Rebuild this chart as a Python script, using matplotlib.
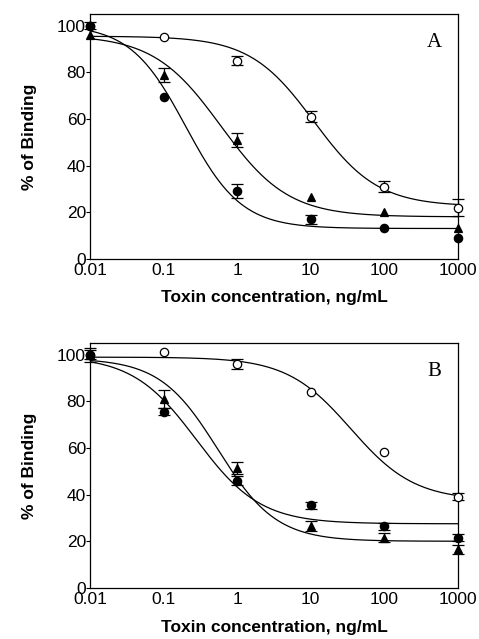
import numpy as np
import matplotlib.pyplot as plt
from matplotlib.ticker import FixedLocator, FixedFormatter, NullLocator

plt.rcParams['font.family'] = ['Liberation Sans', 'DejaVu Sans']

conc = [0.01, 0.1, 1, 10, 100, 1000]
conc_labels = ['0.01', '0.1', '1', '10', '100', '1000']

# panel A: measured % binding and error bars
a_open = [100, 95, 85, 61, 31, 22]
a_open_err = [0, 0, 2, 2.5, 2.5, 3.5]
a_tri = [96, 79, 51, 26.5, 20, 13]
a_tri_err = [0, 3, 3, 0, 0, 0]
a_fill = [100, 69.5, 29, 17, 13, 9]
a_fill_err = [1.5, 0, 3, 2, 0, 0]

# panel B
b_open = [100, 101, 96, 84, 58.5, 39]
b_open_err = [0, 0, 2, 0, 0, 1.5]
b_tri = [100, 81, 51.5, 26.5, 21.5, 16.5]
b_tri_err = [3, 4, 2.5, 2, 2, 2]
b_fill = [100, 75.5, 46, 35.5, 26.5, 21.5]
b_fill_err = [2, 1.5, 2, 1.5, 1.5, 1.5]

# fitted 4-parameter logistic curves: top, bottom, IC50, hill slope
a_open_fit = [95.5, 22.5, 11, 1.0]
a_tri_fit = [96, 18, 0.6, 0.95]
a_fill_fit = [100.5, 13, 0.2, 1.15]
b_open_fit = [99, 37.5, 35, 1.0]
b_tri_fit = [98.5, 20, 0.55, 1.1]
b_fill_fit = [99.5, 27.5, 0.28, 1.0]


def logistic(x, p):
    top, bottom, ic50, hill = p
    return bottom + (top - bottom) / (1 + (x / ic50) ** hill)


def panel(ax, data, letter):
    xx = np.logspace(-2, 3, 300)
    for y, err, fit, mk, face in data:
        ax.plot(xx, logistic(xx, fit), color='black', lw=0.9, zorder=2)
        # error bars only where there is an error
        xe = [c for c, e in zip(conc, err) if e > 0]
        ye = [v for v, e in zip(y, err) if e > 0]
        ee = [e for e in err if e > 0]
        ax.errorbar(xe, ye, yerr=ee, fmt='none', ecolor='black',
                    elinewidth=0.9, capsize=4, capthick=0.9, zorder=3,
                    clip_on=False)
        ax.plot(conc, y, mk, mfc=face, mec='black', ms=6, mew=0.9,
                zorder=4, clip_on=False)
    ax.set_xscale('log')
    ax.set_xlim(0.01, 1000)
    ax.set_ylim(0, 105)
    ax.xaxis.set_major_locator(FixedLocator(conc))
    ax.xaxis.set_major_formatter(FixedFormatter(conc_labels))
    ax.xaxis.set_minor_locator(NullLocator())
    ax.set_yticks([0, 20, 40, 60, 80, 100])
    ax.tick_params(axis='x', length=0, pad=3, labelsize=12.5)
    ax.tick_params(axis='y', length=3, pad=0, labelsize=12.5)
    ax.set_xlabel('Toxin concentration, ng/mL', fontsize=12.5,
                  fontweight='bold', labelpad=9)
    ax.set_ylabel('% of Binding', fontsize=12.5, fontweight='bold',
                  labelpad=14)
    ax.text(0.935, 0.885, letter, transform=ax.transAxes, fontsize=15,
            family='Liberation Serif', ha='center', va='center')
    for s in ax.spines.values():
        s.set_linewidth(0.9)


fig = plt.figure(figsize=(4.79, 6.39), dpi=100)
ax1 = fig.add_axes([0.188, 0.595, 0.768, 0.383])
ax2 = fig.add_axes([0.188, 0.080, 0.768, 0.383])

panel(ax1, [(a_open, a_open_err, a_open_fit, 'o', 'white'),
            (a_tri, a_tri_err, a_tri_fit, '^', 'black'),
            (a_fill, a_fill_err, a_fill_fit, 'o', 'black')], 'A')
panel(ax2, [(b_open, b_open_err, b_open_fit, 'o', 'white'),
            (b_tri, b_tri_err, b_tri_fit, '^', 'black'),
            (b_fill, b_fill_err, b_fill_fit, 'o', 'black')], 'B')

fig.savefig('out.png', dpi=100)
